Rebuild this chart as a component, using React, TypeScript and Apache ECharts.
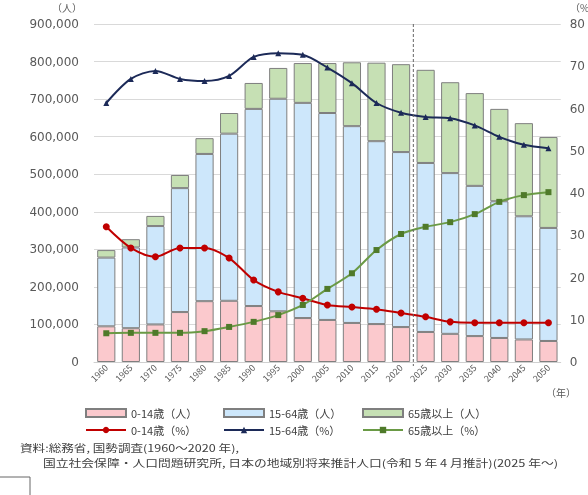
import React, { useEffect, useRef } from "react";
import * as echarts from "echarts";

const years = ["1960","1965","1970","1975","1980","1985","1990","1995","2000","2005","2010","2015","2020","2025","2030","2035","2040","2045","2050"];
const pop0_14 = [95000, 90000, 100000, 133000, 162000, 163000, 149000, 135000, 117000, 112000, 104000, 101000, 93000, 80000, 75000, 69000, 64000, 60000, 56000];
const pop15_64 = [183000, 215000, 262000, 330000, 392000, 445000, 525000, 566000, 573000, 551000, 524000, 487000, 466000, 450000, 428000, 400000, 364000, 328000, 301000];
const pop65 = [20000, 22000, 27000, 35000, 42000, 55000, 69000, 82000, 106000, 133000, 170000, 209000, 234000, 248000, 242000, 247000, 246000, 248000, 242000];
const pct0_14 = [32.0, 27.0, 24.9, 27.0, 27.0, 24.6, 19.4, 16.6, 15.1, 13.5, 13.0, 12.5, 11.6, 10.7, 9.5, 9.3, 9.3, 9.3, 9.3];
const pct15_64 = [61.3, 67.0, 68.9, 67.0, 66.5, 67.7, 72.2, 73.1, 72.7, 69.7, 66.0, 61.3, 59.0, 58.0, 57.7, 56.0, 53.3, 51.4, 50.6];
const pct65 = [6.8, 6.9, 6.9, 6.9, 7.3, 8.3, 9.5, 11.1, 13.5, 17.3, 21.0, 26.5, 30.3, 32.0, 33.1, 35.0, 37.9, 39.5, 40.2];

const names = {
  b1: "0-14歳（人）",
  b2: "15-64歳（人）",
  b3: "65歳以上（人）",
  l1: "0-14歳（%）",
  l2: "15-64歳（%）",
  l3: "65歳以上（%）",
};
const sourceLine1 = "資料:総務省, 国勢調査(1960～2020 年),";
const sourceLine2 = "国立社会保障・人口問題研究所, 日本の地域別将来推計人口(令和 5 年 4 月推計)(2025 年～)";

const FONT = "Noto Sans CJK JP";
const TXT = "#595959";

export default function App() {
  const ref = useRef<HTMLDivElement>(null);
  useEffect(() => {
    if (!ref.current) return;
    const chart = echarts.init(ref.current, undefined, { renderer: "svg" });
    const barBase = { type: "bar", stack: "pop", barCategoryGap: "26%", itemStyle: { borderColor: "#7f7f7f", borderWidth: 1 } };
    const legendText = { fontFamily: FONT, fontSize: 11, color: "#404040", lineHeight: 12 };
    const legendBase = { orient: "vertical", top: 407, padding: 0, itemGap: 5, itemWidth: 40, itemHeight: 8, textStyle: legendText, selectedMode: false };
    chart.setOption({
      animation: false,
      textStyle: { fontFamily: FONT },
      grid: { left: 94, right: 24, top: 24, bottom: 133 },
      xAxis: {
        type: "category",
        data: years,
        axisTick: { show: false },
        axisLine: { lineStyle: { color: "#d0d0d0" } },
        axisLabel: { rotate: 45, fontSize: 9, color: TXT, margin: 4, fontFamily: FONT },
      },
      yAxis: [
        {
          type: "value", min: 0, max: 900000, interval: 100000,
          axisLabel: { fontSize: 12, color: TXT, margin: 15, fontFamily: "DejaVu Sans", formatter: (v: number) => v.toLocaleString("en-US") },
          splitLine: { lineStyle: { color: "#d9d9d9" } },
        },
        {
          type: "value", min: 0, max: 80, interval: 10, position: "right",
          axisLabel: { fontSize: 12, color: TXT, margin: 9, fontFamily: "DejaVu Sans" },
          splitLine: { show: false },
        },
      ],
      legend: [
        { ...legendBase, left: 85, data: [{ name: names.b1, icon: "rect" }, names.l1] },
        { ...legendBase, left: 223, data: [{ name: names.b2, icon: "rect" }, names.l2] },
        { ...legendBase, left: 362, data: [{ name: names.b3, icon: "rect" }, names.l3] },
      ],
      series: [
        { ...barBase, name: names.b1, data: pop0_14, itemStyle: { ...barBase.itemStyle, color: "#fbc9cd" } },
        { ...barBase, name: names.b2, data: pop15_64, itemStyle: { ...barBase.itemStyle, color: "#cde7fb" } },
        { ...barBase, name: names.b3, data: pop65, itemStyle: { ...barBase.itemStyle, color: "#c6e0b4" } },
        {
          type: "line", name: names.l1, yAxisIndex: 1, data: pct0_14, smooth: 0.3, z: 5,
          symbol: "circle", symbolSize: 7,
          lineStyle: { color: "#c00000", width: 2 }, itemStyle: { color: "#c00000" },
        },
        {
          type: "line", name: names.l2, yAxisIndex: 1, data: pct15_64, smooth: 0.3, z: 5,
          symbol: "triangle", symbolSize: 6,
          lineStyle: { color: "#1c2a58", width: 2 }, itemStyle: { color: "#1c2a58" },
        },
        {
          type: "line", name: names.l3, yAxisIndex: 1, data: pct65, smooth: 0.3, z: 5,
          symbol: "rect", symbolSize: 6,
          lineStyle: { color: "#6a9a45", width: 2 }, itemStyle: { color: "#4f7a2a" },
        },
      ],
      graphic: [
        { id: "unitL", type: "text", x: 52, y: 2, style: { text: "（人）", fontSize: 10, fill: TXT, fontFamily: FONT } },
        { id: "unitR", type: "text", x: 570, y: 2, style: { text: "（%）", fontSize: 10, fill: TXT, fontFamily: FONT } },
        { id: "unitX", type: "text", x: 546, y: 387, style: { text: "（年）", fontSize: 10, fill: TXT, fontFamily: FONT } },
        { id: "src1", type: "text", x: 20, y: 443, scaleX: 1.26, style: { text: sourceLine1, fontSize: 10, fill: "#404040", fontFamily: FONT } },
        { id: "src2", type: "text", x: 43, y: 458, scaleX: 1.28, style: { text: sourceLine2, fontSize: 10, fill: "#404040", fontFamily: FONT } },
        { id: "box", type: "rect", shape: { x: -2, y: 477, width: 32, height: 30 }, style: { fill: "none", stroke: "#666", lineWidth: 1 } },
      ],
    });
    const xa = chart.convertToPixel({ xAxisIndex: 0 }, "2020") as number;
    const xb = chart.convertToPixel({ xAxisIndex: 0 }, "2025") as number;
    const yt = chart.convertToPixel({ yAxisIndex: 0 }, 900000) as number;
    const yb = chart.convertToPixel({ yAxisIndex: 0 }, 0) as number;
    const xm = (xa + xb) / 2;
    chart.setOption({
      graphic: [
        { id: "divider", type: "line", z: 10, shape: { x1: xm, y1: yt, x2: xm, y2: yb + 4 }, style: { stroke: "#666", lineWidth: 1, lineDash: [3, 2] } },
      ],
    });
    return () => chart.dispose();
  }, []);
  return <div ref={ref} style={{ position: "fixed", left: 0, top: 0, width: 588, height: 495 }} />;
}
